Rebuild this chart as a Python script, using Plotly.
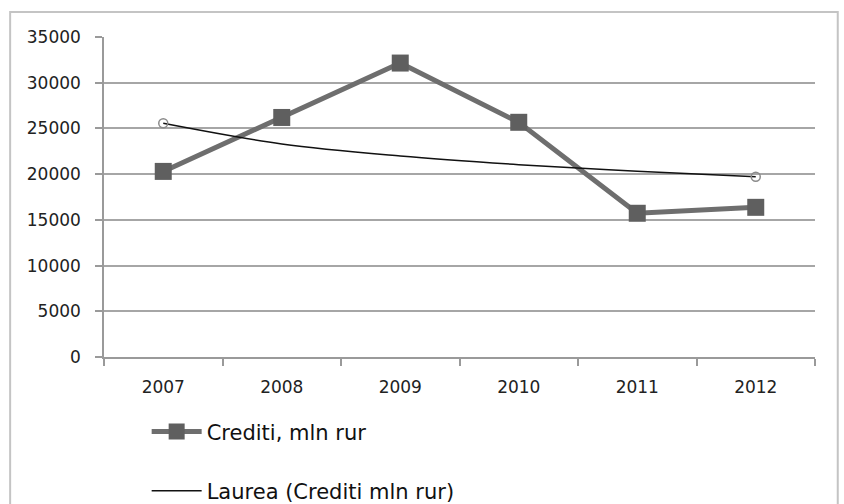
import plotly.graph_objects as go

years = ["2007", "2008", "2009", "2010", "2011", "2012"]
crediti = [20300, 26200, 32150, 25670, 15720, 16370]
trend = [25560, 23300, 21980, 21040, 20310, 19720]
y_ticks = [0, 5000, 10000, 15000, 20000, 25000, 30000, 35000]
y_tick_labels = ["0", "5000", "10000", "15000", "20000", "25000", "30000", "35000"]

series_name = "Crediti, mln rur"
trend_name = "Laurea (Crediti mln rur)"

fig = go.Figure()
fig.add_trace(go.Scatter(
    x=years, y=crediti, name=series_name, mode="lines+markers",
    line=dict(color="#6e6e6e", width=5),
    marker=dict(symbol="square", size=17, color="#5f5f5f"),
    legendgroup="a",
))
fig.add_trace(go.Scatter(
    x=years, y=trend, name=trend_name, mode="lines",
    line=dict(color="#111111", width=1.5, shape="spline"),
    legendgroup="b",
))
fig.add_trace(go.Scatter(
    x=[years[0], years[-1]], y=[trend[0], trend[-1]], mode="markers",
    marker=dict(symbol="circle-open", size=9, color="#8a8a8a", line=dict(width=1.5)),
    showlegend=False, hoverinfo="skip",
))

fig.update_layout(
    width=844, height=504,
    margin=dict(l=104, r=29, t=37, b=147, autoexpand=False),
    paper_bgcolor="white", plot_bgcolor="white",
    font=dict(family="DejaVu Sans", color="#222222"),
    showlegend=True,
    legend=dict(
        x=0.06, y=-0.17, xanchor="left", yanchor="top",
        font=dict(size=21, color="#111111"),
        traceorder="grouped", tracegroupgap=29,
        itemwidth=50, bgcolor="rgba(0,0,0,0)",
    ),
    xaxis=dict(
        type="category", showgrid=False, automargin=False,
        showline=True, linecolor="#9a9a9a", linewidth=1.5,
        ticks="outside", ticklen=7, tickcolor="#9a9a9a", tickwidth=1.5,
        tickson="boundaries", ticklabelstandoff=14,
        tickfont=dict(size=17, color="#222222"),
        range=[-0.5, 5.5],
    ),
    yaxis=dict(
        range=[0, 35000], tickvals=y_ticks, ticktext=y_tick_labels,
        automargin=False, ticklabelstandoff=11,
        showgrid=True, gridcolor="#a6a6a6", gridwidth=1.5,
        showline=True, linecolor="#9a9a9a", linewidth=1.5,
        ticks="outside", ticklen=7, tickcolor="#9a9a9a", tickwidth=1.5,
        tickfont=dict(size=17, color="#222222"),
        zeroline=False,
    ),
    shapes=[dict(
        type="rect", xref="paper", yref="paper",
        x0=-0.132, x1=1.032, y0=-0.5, y1=1.078,
        line=dict(color="#c4c4c4", width=2), layer="below",
    )],
)

fig.write_html(
    "out.html",
    config={"displayModeBar": False},
    post_script="document.body.style.margin='0';document.body.style.overflow='hidden';",
)
